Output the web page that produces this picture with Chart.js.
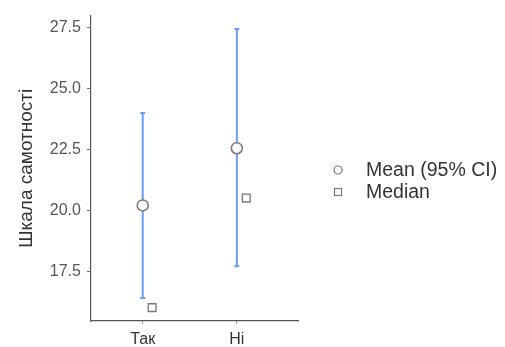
<!DOCTYPE html>
<html>
<head>
<meta charset="utf-8">
<script src="https://cdn.jsdelivr.net/npm/chart.js@4.4.1/dist/chart.umd.min.js"></script>
<style>
  html, body { margin: 0; padding: 0; background: #fff; }
  #wrap { width: 505px; height: 347px; }
</style>
</head>
<body>
<div id="wrap"><canvas id="plot"></canvas></div>
<script>
const categories = ['Так', 'Ні'];
const means = [20.2, 22.55];
const ciLower = [16.4, 17.7];
const ciUpper = [24.0, 27.45];
const medians = [16.0, 20.5];
const yTicks = [17.5, 20.0, 22.5, 25.0, 27.5];
const legendLabels = ['Mean (95% CI)', 'Median'];

const FONT = "'Liberation Sans', Arial, sans-serif";
const BLUE = '#6a9cef';
const GREY = '#777777';

// one dataset per error bar, two points each (lower / upper), caps as 'line' points
let ciSets = categories.map(function (c, i) {
  return {
    data: [{x: i + 1, y: ciLower[i]}, {x: i + 1, y: ciUpper[i]}],
    showLine: true,
    borderColor: BLUE,
    borderWidth: 2,
    pointStyle: 'line',
    pointRadius: 2.5,
    pointBorderColor: BLUE,
    pointBorderWidth: 2,
    order: 3
  };
});

let meanSet = {
  data: means.map((m, i) => ({x: i + 1, y: m})),
  pointStyle: 'circle',
  pointRadius: 5.5,
  pointBackgroundColor: '#fff',
  pointBorderColor: GREY,
  pointBorderWidth: 1.5,
  order: 1
};

let medianSet = {
  data: medians.map((m, i) => ({x: i + 1.1, y: m})),
  pointStyle: 'rect',
  pointRadius: 5.5,
  pointBackgroundColor: '#fff',
  pointBorderColor: GREY,
  pointBorderWidth: 1.3,
  order: 2
};

// legend drawn by hand so it can sit apart from the plot panel
const sideLegend = {
  id: 'sideLegend',
  afterDraw(chart) {
    const ctx = chart.ctx;
    ctx.save();
    ctx.strokeStyle = GREY;
    ctx.lineWidth = 1.2;
    ctx.beginPath();
    ctx.arc(338, 170, 4, 0, Math.PI * 2);
    ctx.stroke();
    ctx.strokeRect(334.5, 188.5, 7, 7);
    ctx.fillStyle = '#333';
    ctx.font = '19.5px ' + FONT;
    ctx.textBaseline = 'middle';
    ctx.fillText(legendLabels[0], 366, 171);
    ctx.fillText(legendLabels[1], 366, 193);
    ctx.restore();
  }
};

new Chart(document.getElementById('plot'), {
  type: 'scatter',
  data: { datasets: [meanSet, medianSet].concat(ciSets) },
  plugins: [sideLegend],
  options: {
    responsive: true,
    maintainAspectRatio: false,
    animation: false,
    layout: { padding: { left: 15, right: 207, top: 15, bottom: -9 } },
    plugins: {
      legend: { display: false },
      tooltip: { enabled: false }
    },
    scales: {
      x: {
        type: 'linear',
        min: 0.45,
        max: 2.65,
        afterBuildTicks: function (axis) {
          axis.ticks = categories.map((c, i) => ({value: i + 1}));
        },
        ticks: {
          callback: (v) => categories[Math.round(v) - 1],
          color: '#333',
          font: { family: FONT, size: 16, lineHeight: 1 },
          padding: 8
        },
        grid: { drawOnChartArea: false, drawTicks: true, tickLength: 3, color: '#999' },
        border: { display: true, color: '#555', width: 1.2 }
      },
      y: {
        min: 15.45,
        max: 28.0,
        afterBuildTicks: function (axis) {
          axis.ticks = yTicks.map(v => ({value: v}));
        },
        ticks: {
          callback: (v) => v.toFixed(1),
          color: '#555',
          font: { family: FONT, size: 16 },
          padding: 6
        },
        title: {
          display: true,
          text: 'Шкала самотності',
          color: '#333',
          font: { family: FONT, size: 19 },
          padding: { top: 0, bottom: 6 }
        },
        grid: { drawOnChartArea: false, drawTicks: true, tickLength: 4, color: '#777' },
        border: { display: true, color: '#555', width: 1.2 }
      }
    }
  }
});
</script>
</body>
</html>
